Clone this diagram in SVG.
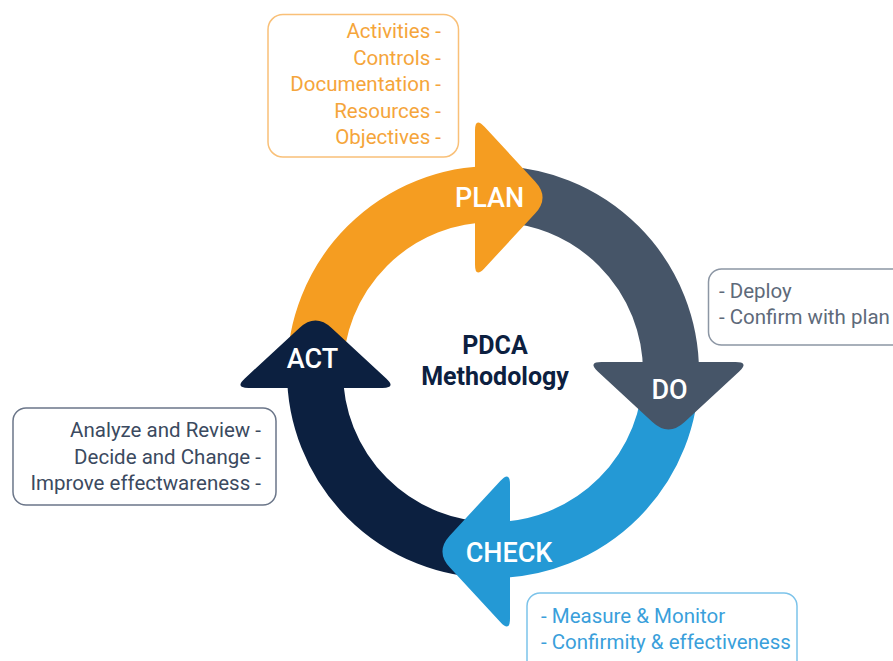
<svg xmlns="http://www.w3.org/2000/svg" width="893" height="661" viewBox="0 0 893 661">
  <defs>
    <style>
      .box { fill: #ffffff; stroke-width: 1.5; }
      .bt { font-family: Roboto, "Open Sans", "Liberation Sans", sans-serif; font-size: 20.5px; }
      .lbl { font-family: Roboto, "Open Sans", "Liberation Sans", sans-serif; font-size: 27px; font-weight: 500; fill: #ffffff; text-anchor: middle; }
      .ring { fill: none; stroke-width: 56; stroke-linecap: butt; }
    </style>
    <path id="head" d="M 0 -67 L 0 67 Q 0 81 9.5 70.7 L 60.1 16.1 Q 75 0 60.1 -16.1 L 9.5 -70.7 Q 0 -81 0 -67 Z"/>
  </defs>
  <rect width="893" height="661" fill="#ffffff"/>

  <g id="connectors">
    <path class="ring" stroke="#F59D21" d="M 315 372 A 178 178 0 0 1 493 194"/>
    <path class="ring" stroke="#465568" d="M 493 194 A 178 178 0 0 1 671 372"/>
    <path class="ring" stroke="#2499D5" d="M 671 372 A 178 178 0 0 1 493 550"/>
    <path class="ring" stroke="#0C2040" d="M 493 550 A 178 178 0 0 1 315 372"/>
  </g>

  <g id="plan">
    <use href="#head" fill="#F59D21" transform="translate(475 197.5)"/>
    <text class="lbl" x="489.5" y="207">PLAN</text>
  </g>
  <g id="do">
    <use href="#head" fill="#465568" transform="translate(668.5 362) rotate(90)"/>
    <text class="lbl" x="669.5" y="399">DO</text>
  </g>
  <g id="check">
    <use href="#head" fill="#2499D5" transform="translate(510 551.5) rotate(180)"/>
    <text class="lbl" x="509" y="562">CHECK</text>
  </g>
  <g id="act">
    <use href="#head" fill="#0C2040" transform="translate(315.5 388) rotate(-90)"/>
    <text class="lbl" x="312.5" y="368">ACT</text>
  </g>

  <g id="center-title">
    <text x="495" y="354" text-anchor="middle" font-family="Roboto, 'Open Sans', 'Liberation Sans', sans-serif" font-size="25" font-weight="700" fill="#0C2040">PDCA</text>
    <text x="495" y="385" text-anchor="middle" font-family="Roboto, 'Open Sans', 'Liberation Sans', sans-serif" font-size="25" font-weight="700" fill="#0C2040">Methodology</text>
  </g>

  <g id="plan-notes">
    <rect class="box" x="268" y="14.5" width="190.5" height="142.5" rx="15" stroke="#F9C078"/>
    <g class="bt" fill="#F5A53B" text-anchor="end">
      <text x="441" y="38">Activities -</text>
      <text x="441" y="64.5">Controls -</text>
      <text x="441" y="91">Documentation -</text>
      <text x="441" y="117.5">Resources -</text>
      <text x="441" y="144">Objectives -</text>
    </g>
  </g>

  <g id="do-notes">
    <rect class="box" x="708.5" y="269" width="200" height="76" rx="13" stroke="#8C96A4"/>
    <g class="bt" fill="#5E6A7A">
      <text x="719" y="297.5">- Deploy</text>
      <text x="719" y="324">- Confirm with plan</text>
    </g>
  </g>

  <g id="act-notes">
    <rect class="box" x="13" y="408" width="263" height="97" rx="13" stroke="#6B7689"/>
    <g class="bt" fill="#3B4A60" text-anchor="end">
      <text x="261" y="437">Analyze and Review -</text>
      <text x="261" y="463.5">Decide and Change -</text>
      <text x="261" y="490">Improve effectwareness -</text>
    </g>
  </g>

  <g id="check-notes">
    <rect class="box" x="527" y="593" width="270" height="90" rx="13" stroke="#7CC3EA"/>
    <g class="bt" fill="#3A9FDB">
      <text x="541" y="623">- Measure &amp; Monitor</text>
      <text x="541" y="649">- Confirmity &amp; effectiveness</text>
    </g>
  </g>
</svg>
